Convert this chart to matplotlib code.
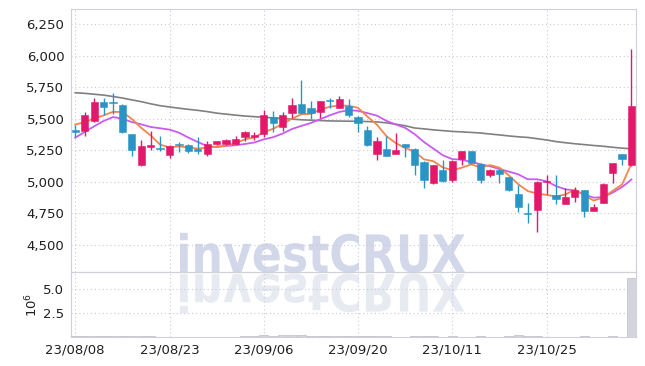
import matplotlib
matplotlib.use("Agg")
import matplotlib.pyplot as plt
from matplotlib.textpath import TextPath
from matplotlib.patches import PathPatch
from matplotlib.font_manager import FontProperties
from matplotlib.transforms import Affine2D

plt.rcParams['font.family'] = ['Liberation Sans Narrow', 'DejaVu Sans']

# daily candles, 23/08/08 .. 23/11/07 (trading days)
opens = [5410, 5400, 5480, 5635, 5625, 5605, 5375, 5130, 5275, 5265,
         5210, 5300, 5290, 5262, 5222, 5295, 5298, 5300, 5350, 5350,
         5375, 5515, 5432, 5545, 5618, 5585, 5552, 5642, 5587, 5597,
         5515, 5410, 5215, 5260, 5222, 5295, 5260, 5155, 4990, 5088,
         5012, 5180, 5240, 5140, 5055, 5095, 5035, 4902, 4750, 4775,
         4993, 4897, 4825, 4875, 4930, 4765, 4830, 5065, 5220, 5130]
highs = [5445, 5555, 5665, 5665, 5705, 5615, 5380, 5330, 5400, 5365,
         5290, 5310, 5298, 5350, 5320, 5325, 5340, 5365, 5405, 5395,
         5570, 5560, 5555, 5660, 5805, 5637, 5640, 5660, 5675, 5653,
         5520, 5437, 5353, 5365, 5388, 5300, 5265, 5160, 5130, 5170,
         5168, 5245, 5245, 5145, 5100, 5100, 5040, 4970, 4828, 5005,
         5055, 5048, 4945, 4955, 4935, 4822, 4985, 5150, 5222, 6055]
lows = [5350, 5365, 5470, 5525, 5540, 5385, 5200, 5125, 5250, 5245,
        5185, 5235, 5225, 5220, 5200, 5290, 5290, 5295, 5325, 5330,
        5355, 5395, 5400, 5505, 5540, 5500, 5505, 5580, 5580, 5510,
        5395, 5285, 5168, 5200, 5215, 5195, 5050, 4945, 4980, 4995,
        4995, 5135, 5140, 4990, 5040, 4985, 4925, 4760, 4668, 4598,
        4905, 4825, 4820, 4835, 4722, 4763, 4828, 4990, 5135, 5125]
closes = [5395, 5525, 5635, 5590, 5620, 5390, 5250, 5280, 5290, 5255,
          5280, 5288, 5242, 5240, 5295, 5320, 5330, 5335, 5393, 5372,
          5530, 5465, 5525, 5605, 5545, 5545, 5637, 5638, 5655, 5528,
          5465, 5290, 5318, 5203, 5250, 5275, 5135, 5015, 5128, 5005,
          5162, 5240, 5145, 5010, 5095, 5058, 4930, 4795, 4743, 5000,
          5003, 4862, 4880, 4933, 4770, 4800, 4980, 5148, 5180, 5600]

ma5 = [5452, 5472, 5500, 5525, 5553, 5552, 5497, 5426, 5366, 5293,
       5271, 5279, 5271, 5261, 5269, 5277, 5285, 5304, 5335, 5350,
       5392, 5419, 5457, 5499, 5534, 5537, 5571, 5594, 5604, 5601,
       5585, 5515, 5451, 5361, 5305, 5267, 5236, 5176, 5161, 5112,
       5089, 5110, 5136, 5112, 5130, 5110, 5048, 4978, 4924, 4905,
       4894, 4881, 4898, 4936, 4890, 4849, 4873, 4926, 4976, 5142]
ma10 = [5348, 5393, 5438, 5480, 5512, 5499, 5472, 5454, 5433, 5423,
        5412, 5388, 5349, 5314, 5281, 5274, 5282, 5288, 5298, 5310,
        5335, 5352, 5381, 5417, 5442, 5465, 5495, 5526, 5552, 5567,
        5561, 5543, 5523, 5482, 5453, 5426, 5376, 5313, 5261, 5208,
        5178, 5173, 5156, 5137, 5121, 5099, 5079, 5057, 5018, 5018,
        5002, 4964, 4938, 4930, 4897, 4872, 4877, 4912, 4956, 5016]
ma_long = [5705, 5700, 5693, 5686, 5675, 5663, 5648, 5634, 5617, 5602,
           5592, 5582, 5573, 5565, 5555, 5543, 5535, 5527, 5520, 5515,
           5510, 5505, 5500, 5495, 5490, 5487, 5484, 5481, 5480, 5479,
           5478, 5476, 5473, 5466, 5455, 5443, 5425, 5418, 5410, 5404,
           5398, 5394, 5390, 5385, 5377, 5370, 5362, 5355, 5350, 5340,
           5330, 5317, 5308, 5300, 5293, 5286, 5280, 5272, 5265, 5260]

volume = [0.08, 0.10, 0.15, 0.09, 0.07, 0.10, 0.08, 0.09, 0.06, 0.05,
          0.05, 0.04, 0.05, 0.04, 0.05, 0.04, 0.04, 0.05, 0.06, 0.12,
          0.20, 0.10, 0.18, 0.22, 0.25, 0.12, 0.10, 0.08, 0.09, 0.07,
          0.06, 0.08, 0.07, 0.06, 0.05, 0.04, 0.07, 0.08, 0.06, 0.05,
          0.06, 0.05, 0.05, 0.06, 0.04, 0.04, 0.06, 0.20, 0.08, 0.12,
          0.05, 0.04, 0.04, 0.04, 0.06, 0.03, 0.05, 0.06, 0.04, 6.15]

tick_pos = [0, 10, 20, 30, 40, 50]
tick_labels = ['23/08/08', '23/08/23', '23/09/06', '23/09/20', '23/10/11', '23/10/25']

UP = '#e2196b'
DOWN = '#2b94c6'
GRID = '#c6cadc'
SPINE = '#cfd0d8'
TXT = '#1f1f1f'

fig = plt.figure(figsize=(6.45, 3.66), dpi=100)
ax = fig.add_axes([0.1105, 0.2568, 0.8751, 0.7178])
axv = fig.add_axes([0.1105, 0.0792, 0.8751, 0.1776], sharex=ax)

x = list(range(len(closes)))

# watermark with its reflection
fp = FontProperties(family='DejaVu Sans', weight='bold')
tp = TextPath((0, 0), 'investCRUX', size=100, prop=fp)
bb = tp.get_extents()
cap = TextPath((0, 0), 'C', size=100, prop=fp).get_extents()
sx = 285.0 / bb.width
sy = 39.0 / cap.height
base = 366 - 272
wm = PathPatch(tp, transform=Affine2D().translate(-bb.x0, 0).scale(sx, sy).translate(180, base),
               facecolor='#d2d8ea', edgecolor='none', zorder=0)
wm2 = PathPatch(tp, transform=Affine2D().translate(-bb.x0, 0).scale(sx, -sy).translate(180, base - 2),
                facecolor='#e8eaf2', edgecolor='none', zorder=0)
fig.add_artist(wm2)
fig.add_artist(wm)

for a in (ax, axv):
    a.set_facecolor('none')
    a.grid(True, color=GRID, linestyle=(0, (1, 2.5)), linewidth=0.8)
    for s in a.spines.values():
        s.set_color(SPINE)
    a.tick_params(length=0, colors=TXT, labelsize=9.5, pad=5)

ax.plot(x, ma_long, color='#808080', lw=1.2, zorder=3)
ax.plot(x, ma10, color='#c95cef', lw=1.3, zorder=3)
ax.plot(x, ma5, color='#f0864e', lw=1.3, zorder=3)

for i in x:
    o, h, l, c = opens[i], highs[i], lows[i], closes[i]
    col = UP if c >= o else DOWN
    ax.vlines(i, l, h, color=col, lw=1.0, zorder=4)
    body = max(abs(c - o), 10)
    ax.bar(i, body, width=0.76, bottom=min(o, c), color=col, edgecolor=col, lw=0.4, zorder=5)

ax.set_xlim(-0.42, 59.45)
ax.set_ylim(4282, 6367)
ax.set_yticks([4500, 4750, 5000, 5250, 5500, 5750, 6000, 6250])
ax.set_yticklabels(['4,500', '4,750', '5,000', '5,250', '5,500', '5,750', '6,000', '6,250'])
plt.setp(ax.get_xticklabels(), visible=False)

axv.bar(x, volume, width=0.95, color='#d4d4dc', edgecolor='#bdbdc6', lw=0.5, zorder=3)
axv.set_ylim(0, 6.78)
axv.set_yticks([2.5, 5.0])
axv.set_yticklabels(['2.5', '5.0'])
axv.set_ylabel(r'$10^6$', color=TXT, fontsize=9.5, labelpad=2)
axv.set_xticks(tick_pos)
axv.set_xticklabels(tick_labels)

fig.savefig('out.png', dpi=100)
